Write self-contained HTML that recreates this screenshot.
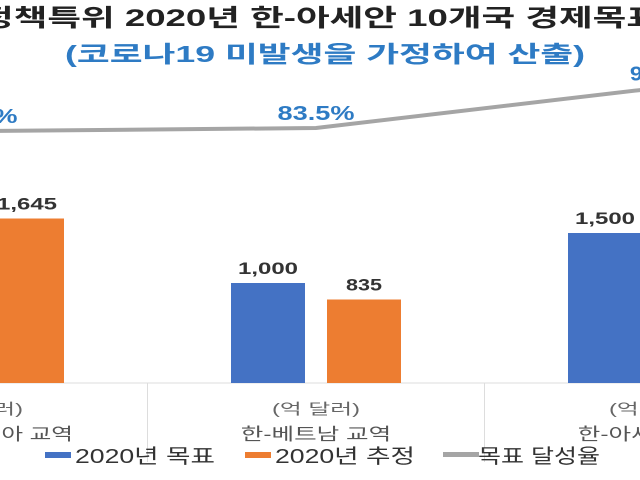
<!DOCTYPE html>
<html><head><meta charset="utf-8"><style>
html,body{margin:0;padding:0;background:#fff;width:640px;height:480px;overflow:hidden}
svg{display:block;font-family:"Liberation Sans","Noto Sans CJK KR",sans-serif}
</style></head><body>
<svg id="chart" width="640" height="480">
<text x="320" y="26" text-anchor="middle" font-size="24" font-weight="bold" fill="#222" textLength="680" lengthAdjust="spacingAndGlyphs">정책특위 2020년 한-아세안 10개국 경제목표</text>
<text x="325" y="62" text-anchor="middle" font-size="23" font-weight="bold" fill="#2e7bc4" textLength="520" lengthAdjust="spacingAndGlyphs">(코로나19 미발생을 가정하여 산출)</text>
<g id="dividers"></g>
<g id="bars"></g>
<g id="line"></g>
<g id="cats"></g>
<g>
<rect x="45" y="452" width="26" height="6" fill="#4472c4"/>
<text x="75" y="463" font-size="20" fill="#333" textLength="140" lengthAdjust="spacingAndGlyphs">2020년 목표</text>
<rect x="245" y="452" width="26" height="6" fill="#ed7d31"/>
<text x="275" y="463" font-size="20" fill="#333" textLength="140" lengthAdjust="spacingAndGlyphs">2020년 추정</text>
<rect x="443" y="452" width="36" height="5" fill="#a5a5a5"/>
<text x="478" y="463" font-size="20" fill="#333" textLength="122" lengthAdjust="spacingAndGlyphs">목표 달성율</text>
</g>
</svg>
<script>
const categories=["한-인도네시아 교역","한-베트남 교역","한-아세안 교역"];
const units=["(억 달러)","(억 달러)","(억 달러)"];
const targetValues=[null,1000,1500];
const estimateValues=[1645,835,null];
const rateValues=[82.6,83.5,95];
const rateLabels=["82.6%","83.5%","95%"];
const NS="http://www.w3.org/2000/svg";
const baseY=383, groupW=337, firstCenter=-21, barW=74;
const xCenter=i=>firstCenter+i*groupW;
const yBar=v=>baseY-v*0.1;
const yRate=v=>128-(v-83.5)*3.43;
function mk(tag,attrs,parent){const e=document.createElementNS(NS,tag);for(const k in attrs)e.setAttribute(k,attrs[k]);parent.appendChild(e);return e;}
const gb=document.getElementById('bars'),gl=document.getElementById('line'),gc=document.getElementById('cats'),gd=document.getElementById('dividers');
let ax=mk('line',{x1:0,x2:640,y1:baseY,y2:baseY,stroke:'#ddd','stroke-width':1},gd);


for(let i=0;i<=categories.length;i++){
  const x=firstCenter-groupW/2+i*groupW;
  const d=mk('line',{x1:x,x2:x,y1:baseY,y2:462,stroke:'#ddd','stroke-width':1},gd);
  
  
}
categories.forEach((c,i)=>{
  const cx=xCenter(i);
  [[targetValues[i],'#4472c4',-1,'target'],[estimateValues[i],'#ed7d31',1,'estimate']].forEach(([v,col,s,nm])=>{
    if(v==null)return;
    const x=cx+s*(barW/2+11)-barW/2;
    const r=mk('rect',{x:x,y:yBar(v),width:barW,height:baseY-yBar(v),fill:col},gb);
    
    
    const txt=v.toLocaleString('en-US');
    const t=mk('text',{x:x+barW/2,y:yBar(v)-9,'text-anchor':'middle','font-size':17,'font-weight':'bold',fill:'#333',textLength:txt.length*12,lengthAdjust:'spacingAndGlyphs'},gb);
    t.textContent=txt;
    
    
  });
  const u=mk('text',{x:cx,y:414,'text-anchor':'middle','font-size':15,fill:'#666',textLength:88,lengthAdjust:'spacingAndGlyphs'},gc);
  u.textContent=units[i];
  
  
  const n=mk('text',{x:cx,y:440,'text-anchor':'middle','font-size':17,fill:'#555',textLength:c.length*18.8,lengthAdjust:'spacingAndGlyphs'},gc);
  n.textContent=c;
  
  
  const rl=mk('text',{x:cx,y:yRate(rateValues[i])-8,'text-anchor':'middle','font-size':20,'font-weight':'bold',fill:'#2e7bc4',textLength:rateLabels[i].length*15.4,lengthAdjust:'spacingAndGlyphs'},gl);
  rl.textContent=rateLabels[i];
  
  
});
const pl=mk('polyline',{points:rateValues.map((v,i)=>xCenter(i)+','+yRate(v)).join(' '),fill:'none',stroke:'#a5a5a5','stroke-width':4},gl);


</script>
</body></html>
